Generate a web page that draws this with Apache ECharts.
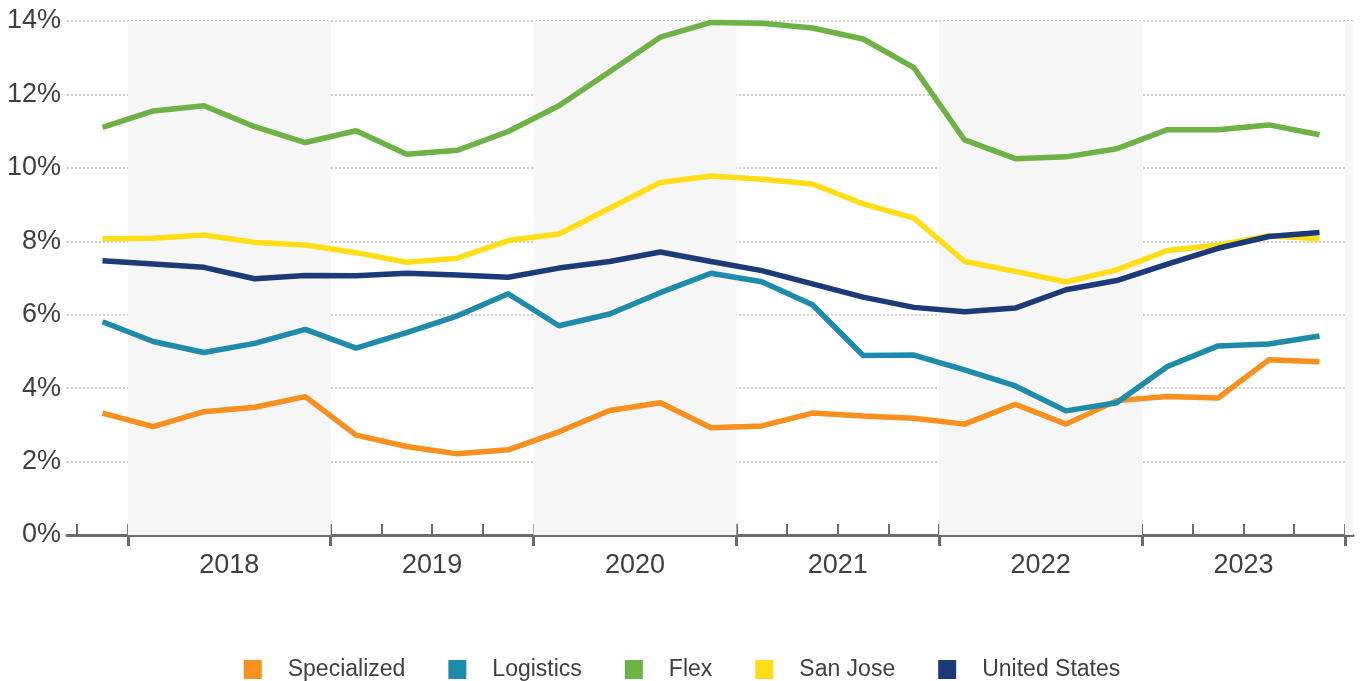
<!DOCTYPE html>
<html>
<head>
<meta charset="utf-8">
<title>Vacancy rates</title>
<script src="https://cdn.jsdelivr.net/npm/echarts@6/dist/echarts.min.js"></script>
<style>
  html, body { margin: 0; padding: 0; background: #ffffff; }
  #chart { width: 1364px; height: 681px; }
</style>
</head>
<body>
<div id="chart"></div>
<script>
// Quarterly observations, Q4 2017 through Q4 2023
const quarters = [
  '2017 Q4',
  '2018 Q1', '2018 Q2', '2018 Q3', '2018 Q4',
  '2019 Q1', '2019 Q2', '2019 Q3', '2019 Q4',
  '2020 Q1', '2020 Q2', '2020 Q3', '2020 Q4',
  '2021 Q1', '2021 Q2', '2021 Q3', '2021 Q4',
  '2022 Q1', '2022 Q2', '2022 Q3', '2022 Q4',
  '2023 Q1', '2023 Q2', '2023 Q3', '2023 Q4'
];

const yearLabels = [2018, 2019, 2020, 2021, 2022, 2023];
const yTicks = [0, 2, 4, 6, 8, 10, 12, 14];

// Vacancy rate, %
const specialized = [3.32, 2.95, 3.36, 3.48, 3.77, 2.72, 2.41, 2.21, 2.32, 2.81, 3.39, 3.60, 2.92,
                     2.97, 3.32, 3.24, 3.18, 3.02, 3.56, 3.02, 3.66, 3.77, 3.73, 4.77, 4.72];
const logistics   = [5.81, 5.27, 4.97, 5.22, 5.60, 5.09, 5.51, 5.97, 6.57, 5.70, 6.02, 6.60, 7.13,
                     6.90, 6.27, 4.89, 4.90, 4.50, 4.06, 3.38, 3.60, 4.59, 5.15, 5.20, 5.42];
const flex        = [11.10, 11.55, 11.69, 11.12, 10.69, 11.01, 10.37, 10.48, 10.99, 11.69, 12.62, 13.56, 13.96,
                     13.94, 13.81, 13.51, 12.73, 10.76, 10.25, 10.30, 10.52, 11.04, 11.04, 11.17, 10.90];
const sanJose     = [8.07, 8.08, 8.17, 7.97, 7.90, 7.69, 7.43, 7.54, 8.02, 8.20, 8.90, 9.60, 9.78,
                     9.69, 9.56, 9.02, 8.63, 7.45, 7.18, 6.89, 7.22, 7.75, 7.90, 8.15, 8.06];
const unitedStates = [7.47, 7.38, 7.29, 6.98, 7.07, 7.06, 7.13, 7.08, 7.02, 7.27, 7.45, 7.71, 7.45,
                      7.20, 6.84, 6.48, 6.20, 6.08, 6.18, 6.68, 6.93, 7.38, 7.81, 8.13, 8.24];

// Place each quarter at the middle of its span on a continuous year scale
function quarterPos(label) {
  const [y, q] = label.split(' Q').map(Number);
  return y + (q - 0.5) / 4;
}
const xs = quarters.map(quarterPos);
const pairs = vals => vals.map((v, i) => [xs[i], v]);

const X_MIN = 2017.7, X_MAX = 2024.04;
const yearTicks = [2018, 2019, 2020, 2021, 2022, 2023, 2024];
const quarterTicks = [];
for (let y = 2017.75; y <= 2024.001; y += 0.25) quarterTicks.push(+y.toFixed(2));

const textColor = '#404040';
const axisGrey = '#6b6b6b';
const font = 'Liberation Sans, Arial, sans-serif';

const seriesDefs = [
  { name: 'Specialized',   data: specialized,  color: '#F7901E' },
  { name: 'Logistics',     data: logistics,    color: '#1F8BAA' },
  { name: 'Flex',          data: flex,         color: '#6CB244' },
  { name: 'San Jose',      data: sanJose,      color: '#FFDE17' },
  { name: 'United States', data: unitedStates, color: '#1C3A77' }
];

const chart = echarts.init(document.getElementById('chart'), null, { renderer: 'canvas' });

const option = {
  animation: false,
  backgroundColor: '#ffffff',
  grid: { left: 67, right: 11, top: 21, bottom: 146, containLabel: false },
  legend: {
    top: 653,
    left: 'center',
    icon: 'rect',
    itemWidth: 18,
    itemHeight: 19,
    itemGap: 43,
    data: seriesDefs.map(s => s.name),
    textStyle: { color: textColor, fontSize: 23, fontFamily: font, padding: [0, 0, 0, 21] }
  },
  xAxis: [
    {
      type: 'value',
      min: X_MIN,
      max: X_MAX,
      axisLine: { show: true, lineStyle: { color: axisGrey, width: 3 } },
      axisTick: { show: true, customValues: yearTicks, length: 11, inside: false,
                  lineStyle: { color: axisGrey, width: 3 } },
      axisLabel: {
        customValues: yearLabels.map(y => y + 0.5),
        formatter: v => String(Math.floor(v)),
        color: textColor, fontSize: 27, fontFamily: font, margin: 17
      },
      splitLine: { show: false }
    },
    {
      type: 'value',
      min: X_MIN,
      max: X_MAX,
      position: 'bottom',
      axisLine: { show: false },
      axisTick: { show: true, customValues: quarterTicks, length: 11, inside: true,
                  lineStyle: { color: axisGrey, width: 2 } },
      axisLabel: { show: false },
      splitLine: { show: false }
    }
  ],
  yAxis: {
    type: 'value',
    min: 0,
    max: 14,
    interval: 2,
    axisLine: { show: false },
    axisTick: { show: false },
    axisLabel: {
      formatter: v => v + '%',
      color: textColor, fontSize: 27, fontFamily: font, margin: 6
    },
    splitLine: { show: true, lineStyle: { color: '#bdbdbd', width: 1.5, type: [2, 2] } }
  },
  series: [
    {
      // alternating year bands
      type: 'line',
      z: -1,
      silent: true,
      data: [],
      markArea: {
        silent: true,
        itemStyle: { color: '#F6F6F6' },
        data: [
          [{ xAxis: 2018 }, { xAxis: 2019 }],
          [{ xAxis: 2020 }, { xAxis: 2021 }],
          [{ xAxis: 2022 }, { xAxis: 2023 }],
          [{ xAxis: 2024 }, { xAxis: X_MAX }]
        ]
      }
    },
    ...seriesDefs.map(s => ({
      name: s.name,
      type: 'line',
      data: pairs(s.data),
      symbol: 'none',
      z: 3,
      itemStyle: { color: s.color },
      lineStyle: { color: s.color, width: 5.5 }
    }))
  ]
};

chart.setOption(option);
</script>
</body>
</html>
